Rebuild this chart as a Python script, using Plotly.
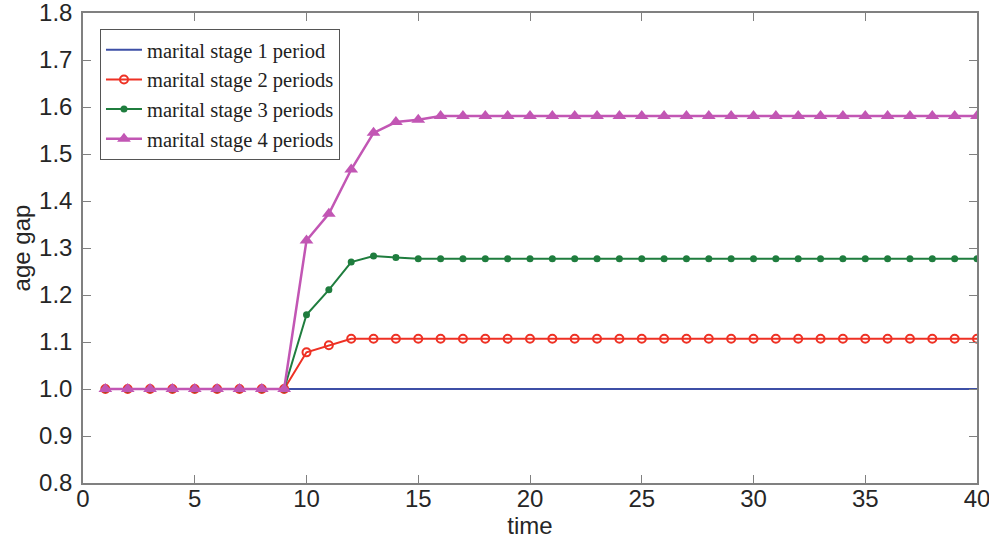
import plotly.graph_objects as go

time = list(range(1, 41))
stage1 = [1.0] * 40
stage2 = [1.0] * 9 + [1.078, 1.093] + [1.107] * 29
stage3 = [1.0] * 9 + [1.158, 1.211, 1.270, 1.283, 1.280] + [1.277] * 26
stage4 = [1.0] * 9 + [1.316, 1.373, 1.467, 1.545, 1.568, 1.573] + [1.581] * 25

names = ["marital stage 1 period", "marital stage 2 periods",
         "marital stage 3 periods", "marital stage 4 periods"]
colors = ["#3d4fa6", "#ee3124", "#1f7d3e", "#c256b4"]

fig = go.Figure()
fig.add_trace(go.Scatter(x=time, y=stage1, name=names[0], mode="lines",
                         line=dict(color=colors[0], width=2)))
fig.add_trace(go.Scatter(x=time, y=stage2, name=names[1], mode="lines+markers",
                         line=dict(color=colors[1], width=2),
                         marker=dict(symbol="circle-open", size=8, color=colors[1],
                                     line=dict(width=2, color=colors[1]))))
fig.add_trace(go.Scatter(x=time, y=stage3, name=names[2], mode="lines+markers",
                         line=dict(color=colors[2], width=2),
                         marker=dict(symbol="circle", size=7, color=colors[2])))
fig.add_trace(go.Scatter(x=time, y=stage4, name=names[3], mode="lines+markers",
                         line=dict(color=colors[3], width=2.5),
                         marker=dict(symbol="triangle-up", size=12, color=colors[3])))

tick_font = dict(family="Liberation Sans, Arial", size=24, color="#262626")
axis_common = dict(showgrid=False, zeroline=False, showline=True, linecolor="#808080",
                   linewidth=1.5, mirror="ticks", ticks="inside", ticklen=8,
                   tickcolor="#808080", tickfont=tick_font, automargin=False,
                   ticklabeloverflow="allow")
fig.update_xaxes(range=[0, 40], dtick=5, ticklabelstandoff=-7,
                 title=dict(text="time", standoff=0, font=tick_font),
                 **axis_common)
fig.update_yaxes(range=[0.8, 1.8], dtick=0.1, tickformat=".1f", ticklabelstandoff=4,
                 title=dict(text="age gap", standoff=2, font=tick_font),
                 **axis_common)

fig.update_layout(
    width=989, height=542,
    margin=dict(l=83, r=12, t=13, b=59),
    plot_bgcolor="white", paper_bgcolor="white",
    legend=dict(x=0.019, y=0.966, xanchor="left", yanchor="top",
                bgcolor="white", bordercolor="#555555", borderwidth=1,
                font=dict(family="Liberation Serif, Times New Roman", size=20.5, color="#222222"),
                tracegroupgap=0, itemwidth=36),
    showlegend=True,
)

fig.write_html("out.html", config={"displayModeBar": False},
               post_script="document.body.style.margin='0';")
